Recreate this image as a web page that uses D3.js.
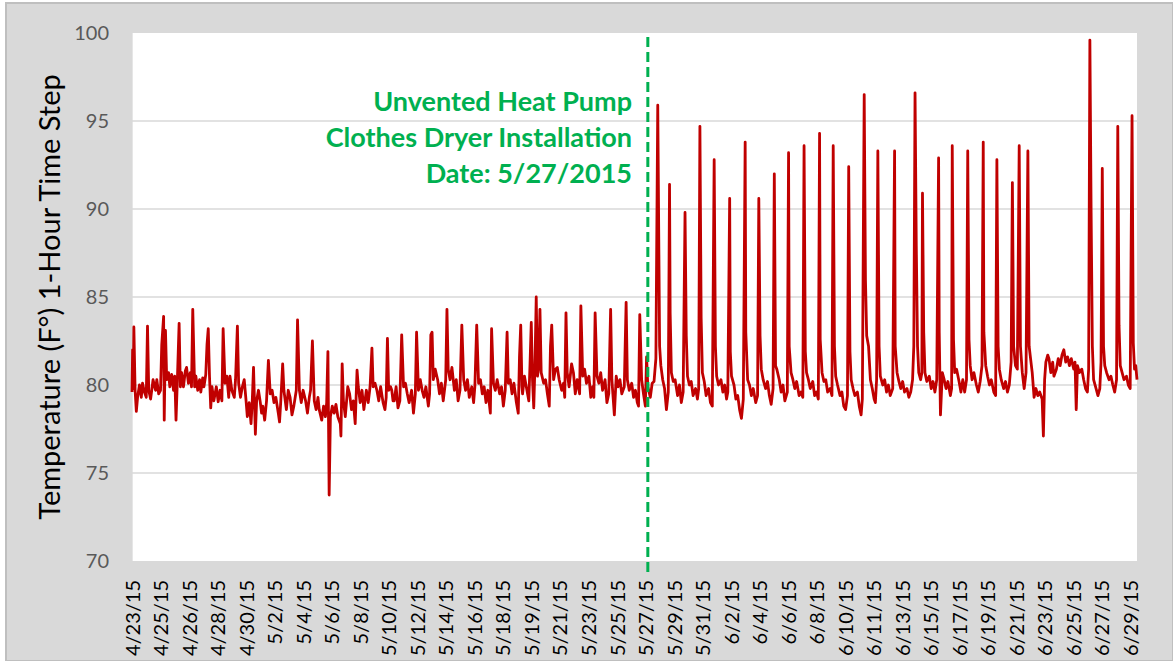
<!DOCTYPE html>
<html>
<head>
<meta charset="utf-8">
<script src="https://cdn.jsdelivr.net/npm/d3@7/dist/d3.min.js"></script>
<style>
  html, body { margin: 0; padding: 0; background: #ffffff; }
  svg { display: block; }
</style>
</head>
<body>
<svg id="chart" width="1173" height="661"></svg>
<script>
// Category labels on the time axis, one every 46 hourly readings
const xTickLabels = [
  "4/23/15","4/25/15","4/26/15","4/28/15","4/30/15","5/2/15","5/4/15","5/6/15",
  "5/8/15","5/10/15","5/12/15","5/14/15","5/16/15","5/18/15","5/19/15","5/21/15",
  "5/23/15","5/25/15","5/27/15","5/29/15","5/31/15","6/2/15","6/4/15","6/6/15",
  "6/8/15","6/10/15","6/11/15","6/13/15","6/15/15","6/17/15","6/19/15","6/21/15",
  "6/23/15","6/25/15","6/27/15","6/29/15"
];
const labelStep = 46;          // readings between labels
const lastHour = 1621;         // index of the final hourly reading
const yTicks = [70, 75, 80, 85, 90, 95, 100];
const gridValues = [75, 80, 85, 90, 95];
const installHour = 832;       // reading index of the dryer installation
const noteLines = ["Unvented Heat Pump", "Clothes Dryer Installation", "Date: 5/27/2015"];

// Hourly temperature readings [reading index, °F] before the new dryer
const beforeInstall = [
  [0,79.6],[1,82.0],[2,79.8],[3,83.3],[5,79.7],[7,78.5],[9,79.3],[12,80.0],[15,79.3],[17,80.1],
  [20,79.6],[23,79.3],[25,83.35],[27,79.7],[30,79.2],[34,80.3],[38,79.7],[40,80.3],[43,79.5],[46,79.7],
  [48,82.3],[51,83.9],[52,78.0],[54,83.1],[56,80.3],[59,80.7],[61,79.9],[64,80.6],[67,79.7],[69,80.5],
  [71,78.0],[73,80.1],[76,83.5],[78,79.9],[80,80.7],[83,79.9],[86,80.8],[88,81.0],[91,80.1],[94,80.7],
  [96,79.9],[98,84.3],[101,79.9],[103,80.5],[106,79.7],[109,80.3],[111,79.6],[114,80.4],[116,79.9],[119,80.6],
  [121,82.3],[123,83.2],[125,80.5],[127,78.7],[129,79.9],[132,79.1],[136,79.9],[139,79.05],[142,79.7],[145,79.1],
  [147,83.2],[150,80.1],[153,80.5],[156,79.3],[158,80.5],[161,79.7],[165,79.3],[167,80.3],[170,83.35],[172,80.1],
  [175,79.3],[178,79.9],[181,80.3],[184,79.1],[186,78.2],[189,79.0],[192,77.8],[194,79.1],[196,81.0],[199,77.2],
  [201,79.1],[204,79.7],[207,79.0],[209,78.4],[211,78.8],[214,78.0],[217,79.1],[220,81.4],[223,79.5],[226,79.7],
  [229,79.0],[232,79.3],[236,78.4],[238,77.9],[240,79.1],[243,81.2],[245,79.7],[249,78.6],[252,79.7],[255,79.3],
  [258,78.3],[261,78.8],[265,79.7],[267,83.7],[270,79.7],[273,79.0],[276,79.7],[280,79.1],[283,78.4],[286,79.3],
  [288,79.7],[291,82.5],[294,79.1],[297,78.6],[300,79.3],[302,78.6],[306,78.0],[309,78.8],[312,78.2],[314,79.0],
  [316,81.9],[317,77.8],[318,73.75],[320,78.2],[323,78.8],[326,78.4],[329,78.9],[332,78.2],[336,77.8],[337,77.1],
  [339,81.2],[341,79.1],[344,78.2],[348,79.9],[351,79.5],[354,78.6],[357,79.1],[360,77.8],[363,80.85],[365,79.9],
  [368,79.0],[371,79.7],[374,78.6],[378,79.7],[381,79.0],[384,79.9],[387,82.1],[389,79.9],[392,80.1],[395,79.7],
  [398,79.1],[401,79.9],[405,79.0],[408,78.6],[410,79.3],[412,82.65],[414,79.7],[417,79.9],[419,79.7],[421,79.1],
  [423,79.1],[426,79.9],[429,78.7],[432,79.1],[435,82.85],[438,79.9],[441,80.1],[444,79.5],[447,79.0],[451,79.7],
  [454,78.4],[457,79.5],[459,83.0],[462,79.7],[465,80.3],[468,79.7],[471,79.3],[474,79.9],[478,78.8],[480,79.5],
  [482,82.85],[484,83.0],[486,80.3],[489,80.9],[493,80.3],[496,79.5],[499,80.1],[502,79.1],[506,80.3],[508,84.3],
  [510,80.9],[513,80.3],[516,81.0],[520,79.7],[523,80.3],[526,79.1],[529,79.7],[532,83.4],[535,80.3],[538,79.7],
  [541,80.3],[544,79.3],[548,79.9],[551,79.0],[553,79.9],[556,83.4],[559,80.1],[562,80.3],[565,79.5],[568,79.9],
  [571,79.0],[574,79.7],[578,78.4],[580,83.2],[583,80.1],[586,79.7],[589,80.3],[593,79.5],[596,79.9],[599,78.8],
  [602,79.7],[605,83.0],[607,80.1],[610,80.3],[613,79.5],[616,80.1],[620,79.0],[623,78.4],[625,81.6],[627,83.4],
  [629,79.9],[630,79.5],[633,80.5],[637,79.7],[640,79.1],[642,81.2],[644,83.55],[646,80.3],[648,78.7],[650,81.2],
  [652,85.0],[654,80.5],[656,81.0],[658,84.3],[660,80.7],[664,80.1],[667,80.3],[670,79.5],[673,78.8],[675,82.2],
  [677,83.4],[680,80.3],[683,80.9],[686,81.0],[689,80.3],[693,79.7],[696,80.1],[698,79.3],[700,84.1],[702,80.7],
  [705,79.9],[709,81.2],[712,80.7],[715,79.5],[718,80.3],[722,79.5],[724,84.5],[727,80.5],[730,80.9],[733,80.1],
  [737,80.5],[740,79.3],[743,79.9],[745,79.3],[747,84.1],[750,80.5],[753,80.1],[756,80.7],[759,79.7],[763,80.3],
  [766,79.0],[769,79.5],[772,84.3],[774,80.3],[778,78.3],[781,80.5],[784,79.9],[787,80.3],[790,79.5],[794,79.9],
  [797,84.7],[799,80.3],[802,79.7],[806,80.1],[809,79.3],[812,79.7],[815,79.0],[817,78.8],[819,84.0],[822,80.3],
  [825,79.5],[828,78.8],[830,81.6],[832,79.9]
];

// Hourly temperature readings [reading index, °F] after the heat pump dryer went in
const afterInstall = [
  [836,79.3],[839,80.1],[842,80.2],[845,81.5],[848,95.9],[850,86.8],[851,82.2],[853,81.1],[856,80.3],[859,79.8],
  [862,78.6],[865,79.6],[867,91.4],[868,84.1],[870,80.7],[873,80.2],[876,80.3],[880,79.4],[883,80.0],[886,79.0],
  [889,79.6],[892,89.8],[894,82.8],[896,80.5],[899,80.0],[902,80.2],[905,79.4],[909,79.8],[912,79.2],[914,79.8],
  [916,94.7],[918,83.8],[920,80.7],[923,80.2],[926,79.4],[930,79.8],[933,79.0],[936,78.8],[939,92.8],[941,82.2],
  [943,80.5],[946,80.0],[950,80.3],[953,79.6],[956,80.0],[959,79.2],[961,79.6],[964,90.6],[965,81.9],[967,80.5],
  [971,80.0],[974,79.2],[977,79.4],[980,78.6],[983,78.1],[986,79.2],[989,93.8],[990,83.0],[993,80.3],[996,80.0],
  [999,79.4],[1002,79.8],[1006,79.0],[1009,79.4],[1011,90.6],[1013,82.8],[1015,80.9],[1018,80.3],[1022,79.8],[1025,80.2],
  [1028,79.4],[1031,78.9],[1034,79.8],[1036,92.0],[1038,81.1],[1040,80.9],[1044,80.3],[1047,79.6],[1050,80.0],[1053,79.1],
  [1057,79.6],[1059,93.2],[1060,82.2],[1063,80.7],[1066,80.3],[1069,79.8],[1072,80.2],[1076,79.4],[1079,79.6],[1082,79.3],
  [1084,93.6],[1086,81.9],[1088,80.7],[1091,80.3],[1094,79.8],[1098,80.2],[1101,79.4],[1104,79.6],[1107,79.2],[1109,94.3],
  [1110,82.6],[1113,80.7],[1116,80.2],[1119,80.3],[1122,79.6],[1126,79.8],[1129,79.4],[1131,93.6],[1133,82.2],[1135,80.5],
  [1138,80.0],[1142,79.4],[1145,79.6],[1148,78.8],[1151,78.6],[1154,79.4],[1156,92.4],[1158,81.9],[1160,80.3],[1163,79.8],
  [1166,79.4],[1170,79.6],[1173,78.8],[1176,78.3],[1178,79.2],[1181,96.5],[1183,86.0],[1185,82.8],[1188,82.2],[1191,80.3],
  [1194,79.8],[1197,79.2],[1199,79.0],[1201,80.3],[1203,93.3],[1205,82.2],[1207,80.5],[1211,80.0],[1214,80.3],[1217,79.6],
  [1220,80.0],[1223,79.4],[1227,79.8],[1230,93.3],[1231,82.2],[1234,80.7],[1237,80.2],[1240,79.8],[1243,80.2],[1246,79.6],
  [1250,79.8],[1253,79.3],[1256,79.6],[1259,80.3],[1261,82.2],[1263,96.6],[1265,87.9],[1267,82.2],[1269,80.7],[1272,80.3],
  [1274,80.7],[1275,90.9],[1277,83.0],[1279,80.7],[1282,80.2],[1286,80.5],[1289,79.8],[1292,80.2],[1295,79.6],[1298,80.3],
  [1301,92.9],[1302,83.0],[1304,78.3],[1307,80.7],[1310,80.3],[1313,79.8],[1316,80.2],[1320,79.4],[1322,79.8],[1323,93.6],
  [1325,82.6],[1327,80.7],[1330,80.9],[1334,80.2],[1337,79.6],[1340,80.3],[1343,79.6],[1346,80.3],[1348,93.3],[1350,82.6],
  [1352,81.1],[1355,80.3],[1358,80.7],[1362,80.0],[1365,79.6],[1368,80.2],[1371,81.1],[1373,93.8],[1374,83.0],[1377,81.1],
  [1380,80.5],[1383,80.0],[1386,80.3],[1390,79.6],[1393,79.4],[1395,92.8],[1397,82.2],[1399,80.9],[1402,80.3],[1406,79.8],
  [1409,80.2],[1412,79.6],[1415,80.0],[1418,81.3],[1420,91.5],[1422,82.2],[1425,81.1],[1428,80.9],[1431,93.6],[1433,82.2],
  [1436,80.7],[1439,79.8],[1442,80.7],[1445,93.3],[1447,82.2],[1450,81.3],[1452,80.7],[1455,79.3],[1458,79.8],[1461,79.4],
  [1464,79.6],[1468,79.2],[1470,77.1],[1472,80.3],[1474,81.3],[1477,81.7],[1479,81.5],[1482,80.7],[1485,81.3],[1487,80.5],
  [1491,80.9],[1494,81.5],[1497,81.1],[1500,81.7],[1503,82.0],[1506,81.3],[1509,81.6],[1512,81.1],[1515,81.5],[1519,80.9],
  [1521,81.3],[1523,78.6],[1525,81.1],[1528,80.7],[1532,80.9],[1535,80.3],[1538,79.8],[1541,79.6],[1543,80.9],[1545,99.6],
  [1547,89.8],[1549,82.2],[1551,80.3],[1555,79.8],[1558,79.4],[1561,79.8],[1563,81.3],[1565,92.3],[1567,82.2],[1569,81.1],
  [1572,80.7],[1576,80.3],[1579,80.5],[1582,80.0],[1585,79.6],[1588,80.3],[1590,94.7],[1592,83.4],[1594,81.1],[1597,80.7],
  [1600,80.3],[1604,80.5],[1607,80.0],[1610,79.8],[1613,95.3],[1615,82.4],[1617,80.9],[1619,81.1],[1621,80.3]
];

const readings = beforeInstall.concat(afterInstall);

const W = 1173, H = 661;
const plot = { left: 132, top: 33, right: 1137, bottom: 561 };
const fontStack = "Lato, 'Open Sans', sans-serif";

const svg = d3.select("#chart");

// Chart area
svg.append("rect")
  .attr("x", 6).attr("y", 3)
  .attr("width", W - 6).attr("height", H - 3)
  .attr("fill", "#d9d9d9")
  .attr("stroke", "#bfbfbf").attr("stroke-width", 2);

// Plot area
svg.append("rect")
  .attr("x", plot.left).attr("y", plot.top)
  .attr("width", plot.right - plot.left).attr("height", plot.bottom - plot.top)
  .attr("fill", "#ffffff");

const x = d3.scaleLinear().domain([0, lastHour]).range([plot.left, plot.right]);
const y = d3.scaleLinear().domain([70, 100]).range([plot.bottom, plot.top]);

// Horizontal gridlines
svg.append("g").selectAll("line")
  .data(gridValues)
  .join("line")
  .attr("x1", plot.left).attr("x2", plot.right)
  .attr("y1", d => y(d)).attr("y2", d => y(d))
  .attr("stroke", "#d9d9d9").attr("stroke-width", 1.3);

// Vertical axis line
svg.append("line")
  .attr("x1", plot.left).attr("x2", plot.left)
  .attr("y1", plot.top).attr("y2", plot.bottom)
  .attr("stroke", "#d9d9d9").attr("stroke-width", 1.3);

// Y axis
const yAxis = svg.append("g")
  .attr("transform", `translate(${plot.left},0)`)
  .call(d3.axisLeft(y).tickValues(yTicks).tickSize(0).tickPadding(23));
yAxis.select(".domain").remove();
yAxis.selectAll("text")
  .attr("font-family", fontStack)
  .attr("font-size", 20)
  .attr("fill", "#595959");

// X axis with rotated date labels
const xAxis = svg.append("g")
  .attr("transform", `translate(0,${plot.bottom})`)
  .call(d3.axisBottom(x)
    .tickValues(xTickLabels.map((_, i) => i * labelStep))
    .tickFormat((d, i) => xTickLabels[i])
    .tickSize(0));
xAxis.select(".domain").remove();
xAxis.selectAll("text")
  .attr("font-family", fontStack)
  .attr("font-size", 20)
  .attr("fill", "#000000")
  .attr("text-anchor", "end")
  .attr("transform", "rotate(-90)")
  .attr("x", -19)
  .attr("y", 0)
  .attr("dy", "0.36em");

// Y axis title
svg.append("text")
  .attr("transform", `translate(50,${(plot.top + plot.bottom) / 2}) rotate(-90)`)
  .attr("text-anchor", "middle")
  .attr("dy", "0.36em")
  .attr("font-family", fontStack)
  .attr("font-size", 29)
  .attr("fill", "#000000")
  .text("Temperature (F°) 1-Hour Time Step");

// Temperature series
const line = d3.line().x(d => x(d[0])).y(d => y(d[1]));
svg.append("path")
  .datum(readings)
  .attr("d", line)
  .attr("fill", "none")
  .attr("stroke", "#c00000")
  .attr("stroke-width", 2.8)
  .attr("stroke-linejoin", "round");

// Installation marker
svg.append("line")
  .attr("x1", x(installHour)).attr("x2", x(installHour))
  .attr("y1", 37).attr("y2", 575)
  .attr("stroke", "#00b050")
  .attr("stroke-width", 3)
  .attr("stroke-dasharray", "10,5");

svg.append("g").selectAll("text")
  .data(noteLines)
  .join("text")
  .attr("x", 632)
  .attr("y", (d, i) => 101 + i * 36)
  .attr("dy", "0.36em")
  .attr("text-anchor", "end")
  .attr("font-family", fontStack)
  .attr("font-weight", "bold")
  .attr("font-size", 27)
  .attr("fill", "#00b050")
  .text(d => d);
</script>
</body>
</html>
